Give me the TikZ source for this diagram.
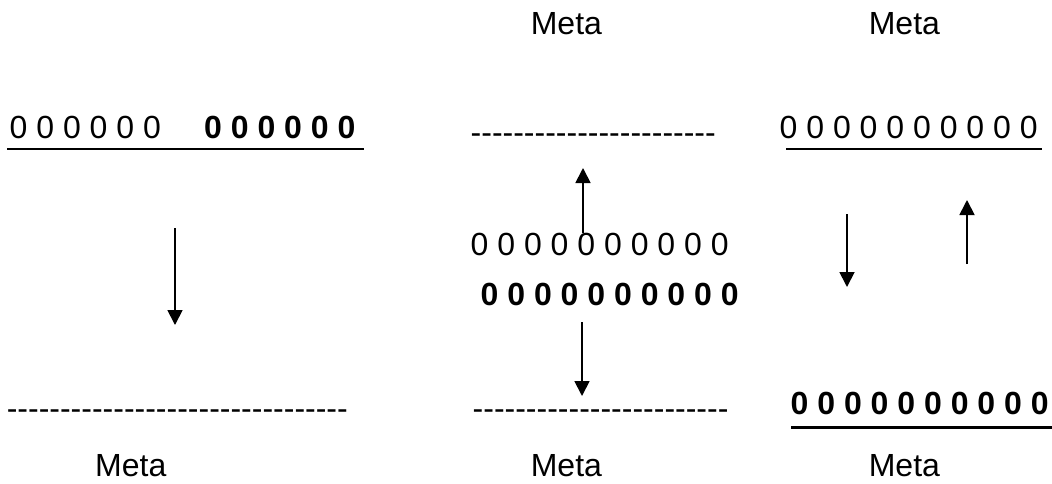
\documentclass[tikz,border=0pt]{standalone}
\usepackage{fontspec}
\setmainfont{Liberation Sans}[Ligatures=TeXOff]
\usetikzlibrary{arrows.meta}
\begin{document}
\begin{tikzpicture}[x=1pt,y=-1pt,
  txt/.style={anchor=base west,inner sep=0pt,font=\fontsize{32}{38}\selectfont},
  btxt/.style={txt,font=\fontsize{32}{38}\selectfont\bfseries},
  uline/.style={line width=2pt},
  buline/.style={line width=3pt},
  arr/.style={line width=1.8pt,-{Triangle[length=15pt,width=15pt]}}]
\useasboundingbox (0,0) rectangle (1052,483);
% top labels
\node[txt] (mt1) at (530.6,34) {Meta};
\node[txt] (mt2) at (868.6,34) {Meta};
% row 1
\node[txt] (r1a) at (9.5,138) {0 0 0 0 0 0};
\node[btxt] (r1b) at (204,138) {0 0 0 0 0 0};
\draw[uline] ([xshift=-2.5pt,yshift=-11pt]r1a.base west) -- ([xshift=8pt,yshift=-11pt]r1b.base east);
\node[txt] (r1m) at (470.5,143) {-----------------------};
\node[txt] (r1c) at (779.5,138) {0 0 0 0 0 0 0 0 0 0};
\draw[uline] ([xshift=6.5pt,yshift=-11pt]r1c.base west) -- ([xshift=4pt,yshift=-11pt]r1c.base east);
% middle
\node[txt] (m1) at (470.5,255) {0 0 0 0 0 0 0 0 0 0};
\node[btxt] (m2) at (480.5,305) {0 0 0 0 0 0 0 0 0 0};
% bottom row
\node[txt] (b1) at (6.6,419) {--------------------------------};
\node[txt] (b2) at (472.5,419) {------------------------};
\node[btxt] (b3) at (790.5,414) {0 0 0 0 0 0 0 0 0 0};
\draw[buline] ([xshift=0.5pt,yshift=-13pt]b3.base west) -- ([xshift=6pt,yshift=-13pt]b3.base east);
% bottom labels
\node[txt] (mb1) at (95,476) {Meta};
\node[txt] (mb2) at (530.6,476) {Meta};
\node[txt] (mb3) at (868.6,476) {Meta};
% arrows
\coordinate (a1s) at (175,228); \coordinate (a1e) at (175,325);
\coordinate (a2s) at (583,233); \coordinate (a2e) at (583,168);
\coordinate (a3s) at (582,322); \coordinate (a3e) at (582,396);
\coordinate (a4s) at (847,214); \coordinate (a4e) at (847,287);
\coordinate (a5s) at (967,264); \coordinate (a5e) at (967,200);
\draw[arr] (a1s) -- (a1e);
\draw[arr] (a2s) -- (a2e);
\draw[arr] (a3s) -- (a3e);
\draw[arr] (a4s) -- (a4e);
\draw[arr] (a5s) -- (a5e);
\end{tikzpicture}
\end{document}
